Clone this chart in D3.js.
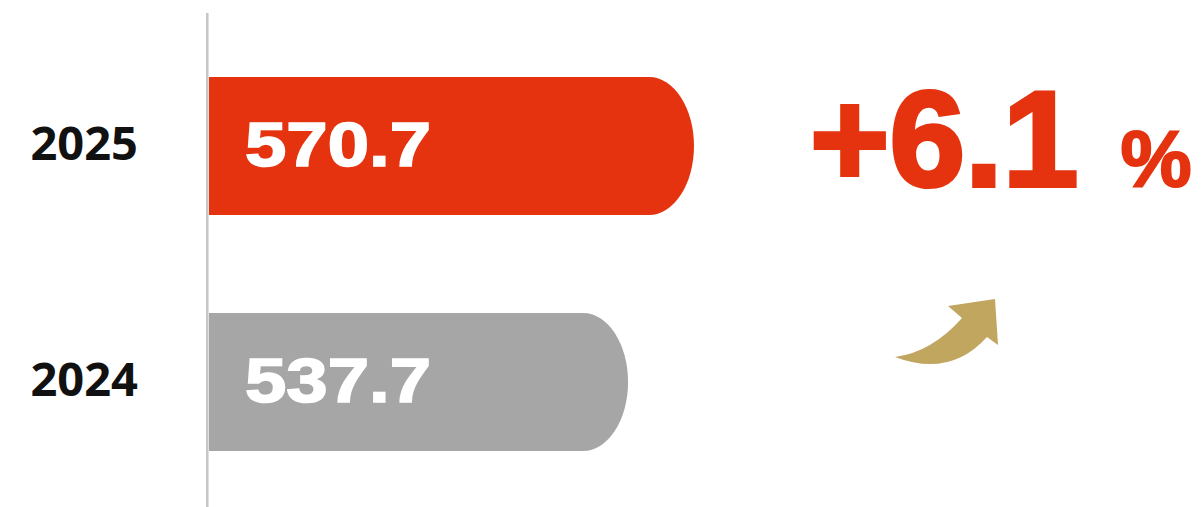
<!DOCTYPE html>
<html lang="en">
<head>
    <meta charset="UTF-8">
    <script src="https://d3js.org/d3.v7.min.js"></script>
    <title>2025 vs 2024</title>
    <style>
    html, body {margin: 0; padding: 0; background: #fff;}
    svg {display: block;}
    .cat {font-family: "Open Sans", "Noto Sans", sans-serif; font-weight: 700; fill: #111;}
    .val {font-family: "Liberation Sans", Arial, sans-serif; font-weight: 700; fill: #fff; stroke: #fff; stroke-width: 1.6; stroke-linejoin: miter;}
    .chg {font-family: "Liberation Sans", Arial, sans-serif; font-weight: 700; fill: #e5330f; stroke: #e5330f; stroke-linejoin: miter;}
    </style>
</head>
<body>
    <svg></svg>
    <script>

        var categories = ["2025", "2024"];
        var values = [570.7, 537.7];
        var valueLabels = ["570.7", "537.7"];
        var barColors = ["#e5330f", "#a6a6a6"];
        var changeText = "+6.1";
        var changeUnit = "%";

        var W = 1204, H = 507;
        var x0 = 209;
        var capR = 45;

        var svg = d3.select("svg")
            .attr("width", W)
            .attr("height", H);

        // value axis does not start at zero in the original
        var x = d3.scaleLinear().domain([328, 570.7]).range([x0, 694]);
        var y = d3.scaleBand().domain(categories).range([18, 510])
            .paddingInner(0.415).paddingOuter(0.25);

        function barPath(d, i) {
            var top = y(categories[i]);
            var h = y.bandwidth();
            var xe = x(d);
            var xs = xe - capR;
            return "M" + x0 + "," + top +
                "L" + xs + "," + top +
                "A" + capR + "," + (h / 2) + " 0 0 1 " + xs + "," + (top + h) +
                "L" + x0 + "," + (top + h) + "Z";
        }

        var rows = svg.selectAll("g.row").data(values).enter()
            .append("g")
            .attr("class", "row");

        rows.append("path")
            .attr("d", barPath)
            .attr("fill", function(d, i) { return barColors[i]; });

        rows.append("text")
            .attr("class", "val")
            .attr("x", 245)
            .attr("y", function(d, i) { return y(categories[i]) + y.bandwidth() / 2 + 20; })
            .attr("font-size", 63)
            .attr("textLength", 186)
            .attr("lengthAdjust", "spacingAndGlyphs")
            .text(function(d, i) { return valueLabels[i]; });

        rows.append("text")
            .attr("class", "cat")
            .attr("x", 138)
            .attr("text-anchor", "end")
            .attr("y", function(d, i) { return y(categories[i]) + y.bandwidth() / 2 + 14; })
            .attr("font-size", 47)
            .text(function(d, i) { return categories[i]; });

        // axis line
        svg.append("line")
            .attr("x1", 207.3).attr("x2", 207.3)
            .attr("y1", 13).attr("y2", H)
            .attr("stroke", "#c6c6c6")
            .attr("stroke-width", 2.5);

        // change annotation
        var chg = svg.append("text")
            .attr("class", "chg")
            .attr("x", 810)
            .attr("y", 186)
            .attr("font-size", 136)
            .attr("stroke-width", 4);
        chg.append("tspan").text(changeText);
        chg.append("tspan").attr("font-size", 80).attr("dx", 42)
            .attr("stroke-width", 2).text(changeUnit);

        // curved arrow
        svg.append("path")
            .attr("d", "M895,357 Q932,352 962,318 L948,306 L995,299 L998,345 L987,337 Q950,378 895,357 Z")
            .attr("fill", "#c1a660");

    </script>
</body>
</html>
